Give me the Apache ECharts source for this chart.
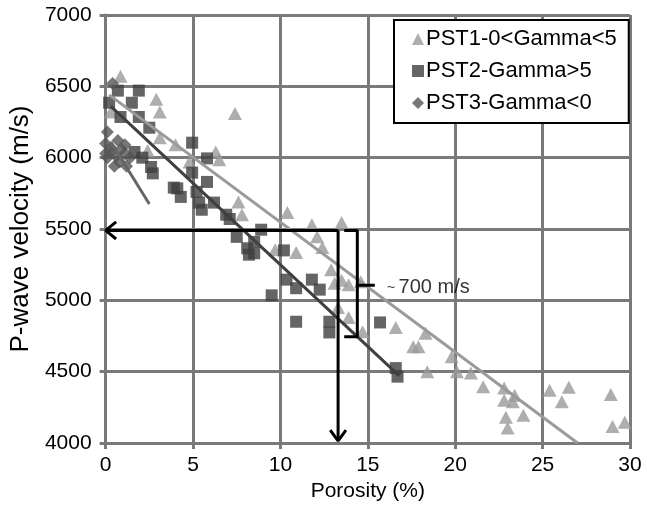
<!DOCTYPE html>
<html><head><meta charset="utf-8">
<script src="https://cdn.jsdelivr.net/npm/echarts@6/dist/echarts.min.js"></script>
<style>html,body{margin:0;padding:0;background:#fff}#c{width:647px;height:515px}</style>
</head><body><div id="c"></div>
<script>
// ---- Data ----
const xTicks = [0, 5, 10, 15, 20, 25, 30];
const yTicks = [4000, 4500, 5000, 5500, 6000, 6500, 7000];
const seriesNames = ['PST1-0<Gamma<5', 'PST2-Gamma>5', 'PST3-Gamma<0'];

const pst1Porosity = [0.85,0.3,2.9,3.1,2.4,3.1,4.0,4.8,6.3,6.5,7.4,7.6,7.8,10.4,11.8,12.1,13.5,9.7,10.9,12.4,12.9,13.5,13.1,13.9,14.6,13.3,13.9,14.7,16.6,18.3,17.6,17.9,19.8,18.4,20.1,20.9,21.6,22.8,23.4,22.8,23.3,22.9,23.9,23.0,25.4,26.5,26.1,28.9,29.0,29.7];
const pst1Velocity = [6570,6320,6410,6320,6050,6140,6090,5970,6040,5985,6310,5690,5600,5615,5530,5445,5545,5355,5335,5370,5215,5140,5120,5110,5130,4950,4880,4780,4810,4770,4675,4675,4605,4500,4500,4490,4395,4385,4335,4300,4290,4180,4195,4105,4370,4390,4290,4340,4115,4145];

const pst2Porosity = [0.7,1.9,0.2,1.5,0.85,1.9,2.5,1.65,2.1,2.6,2.7,3.9,4.95,5.8,4.95,5.8,4.1,4.3,5.2,5.35,5.5,6.2,6.9,7.1,7.5,8.1,8.5,8.9,8.2,8.5,9.5,10.2,10.35,10.9,11.8,12.25,10.9,12.8,12.8,15.7,16.6,16.7];
const pst2Velocity = [6470,6470,6385,6385,6285,6285,6210,6040,6000,5935,5890,5790,6105,5995,5895,5830,5785,5725,5760,5685,5635,5685,5600,5570,5445,5365,5410,5495,5320,5330,5035,5350,5145,5085,5145,5075,4850,4850,4775,4845,4525,4465];

const pst3Porosity = [0.4,0.1,0.0,0.3,0.7,1.1,0.1,0.6,0.5,1.1,1.4,1.2,0.0,0.8,0.3,0.9];
const pst3Velocity = [6520,6180,6100,6070,6120,6090,6000,6010,5940,6030,6000,5940,6030,5970,6040,6060];

// trend lines (end points)
const pst1TrendX = [0.2, 27.0];
const pst1TrendY = [6440, 4000];
const pst2TrendX = [0.3, 16.8];
const pst2TrendY = [6360, 4470];
const pst3TrendX = [0.3, 2.5];
const pst3TrendY = [6110, 5675];

// annotation (porosity, velocity)
const readX = 13.3, readY = 5490;
const bracketX = 14.4, bracketTop = 5490, bracketBottom = 4745, bracketMid = 5105;
const deltaLabel = '700 m/s';

// ---- Build ----
const zip = (a, b) => a.map((v, i) => [v, b[i]]);
const FONT = "'Liberation Sans', Arial, sans-serif";
const GRID = '#7a7a7a';

const blackLine = (data, w) => ({
  type: 'line', data, symbol: 'none', silent: true, z: 5,
  lineStyle: { color: '#000', width: w || 3 }, animation: false
});

const chart = echarts.init(document.getElementById('c'), null, { renderer: 'canvas' });
chart.setOption({
  animation: false,
  backgroundColor: '#fff',
  grid: { left: 103, right: 17, top: 15, bottom: 72 },
  legend: {
    data: seriesNames,
    orient: 'vertical',
    left: 394, top: 20,
    padding: [8, 12, 9, 18],
    itemGap: 10,
    itemWidth: 12, itemHeight: 12,
    backgroundColor: '#fff',
    borderColor: '#000', borderWidth: 2, borderRadius: 0,
    textStyle: { fontFamily: FONT, fontSize: 22, color: '#000', padding: [0, 0, 0, -3] }
  },
  xAxis: {
    type: 'value', min: 0, max: 30, interval: 5,
    name: 'Porosity (%)', nameLocation: 'middle', nameGap: 36,
    nameTextStyle: { fontFamily: FONT, fontSize: 21, color: '#000' },
    axisLine: { show: true, lineStyle: { color: GRID, width: 3 } },
    axisTick: { show: true, length: 6, lineStyle: { color: GRID, width: 3 } },
    axisLabel: { fontFamily: FONT, fontSize: 21, color: '#000', margin: 12,
      formatter: v => xTicks.includes(v) ? String(v) : '' },
    splitLine: { show: true, lineStyle: { color: GRID, width: 3 } }
  },
  yAxis: {
    type: 'value', min: 4000, max: 7000, interval: 500,
    name: 'P-wave velocity (m/s)', nameLocation: 'middle', nameGap: 66,
    nameTextStyle: { fontFamily: FONT, fontSize: 26, color: '#000' },
    axisLine: { show: true, lineStyle: { color: GRID, width: 3 } },
    axisTick: { show: true, length: 6, lineStyle: { color: GRID, width: 3 } },
    axisLabel: { fontFamily: FONT, fontSize: 21, color: '#000', margin: 14,
      formatter: v => yTicks.includes(v) ? String(v) : '' },
    splitLine: { show: true, lineStyle: { color: GRID, width: 3 } }
  },
  series: [
    { name: seriesNames[0], type: 'scatter', symbol: 'triangle', symbolSize: [14, 13],
      data: zip(pst1Porosity, pst1Velocity), itemStyle: { color: '#9a9a9a' }, z: 2 },
    { name: seriesNames[1], type: 'scatter', symbol: 'rect', symbolSize: 12,
      data: zip(pst2Porosity, pst2Velocity), itemStyle: { color: '#3f3f3f' }, z: 2 },
    { name: seriesNames[2], type: 'scatter', symbol: 'diamond', symbolSize: 13,
      data: zip(pst3Porosity, pst3Velocity), itemStyle: { color: '#555555' }, z: 2 },
    { type: 'line', data: zip(pst1TrendX, pst1TrendY), symbol: 'none', silent: true, z: 3,
      lineStyle: { color: '#9a9a9a', width: 3 } },
    { type: 'line', data: zip(pst2TrendX, pst2TrendY), symbol: 'none', silent: true, z: 3,
      lineStyle: { color: '#3f3f3f', width: 3 } },
    { type: 'line', data: zip(pst3TrendX, pst3TrendY), symbol: 'none', silent: true, z: 3,
      lineStyle: { color: '#666666', width: 3 } },
    // horizontal arrow to velocity axis
    blackLine([[readX, readY], [0, readY]]),
    blackLine([[0.6, readY + 60], [0, readY], [0.6, readY - 60]]),
    // vertical arrow to porosity axis
    blackLine([[readX, readY], [readX, 4015]], 3),
    blackLine([[readX - 0.45, 4090], [readX, 4015], [readX + 0.45, 4090]]),
    // bracket
    blackLine([[bracketX - 0.75, bracketTop], [bracketX, bracketTop], [bracketX, bracketBottom], [bracketX - 0.75, bracketBottom]]),
    blackLine([[bracketX, bracketMid], [bracketX + 1.0, bracketMid]]),
    { type: 'scatter', data: [[bracketX + 1.7, 5087]], symbolSize: 0, silent: true, z: 6,
      label: { show: true, position: 'right', distance: 0,
        formatter: '{t|~} {n|' + deltaLabel + '}',
        rich: { t: { fontFamily: FONT, fontSize: 14, color: '#000' },
                n: { fontFamily: FONT, fontSize: 20, color: '#000' } } } }
  ]
});
</script>
</body></html>
